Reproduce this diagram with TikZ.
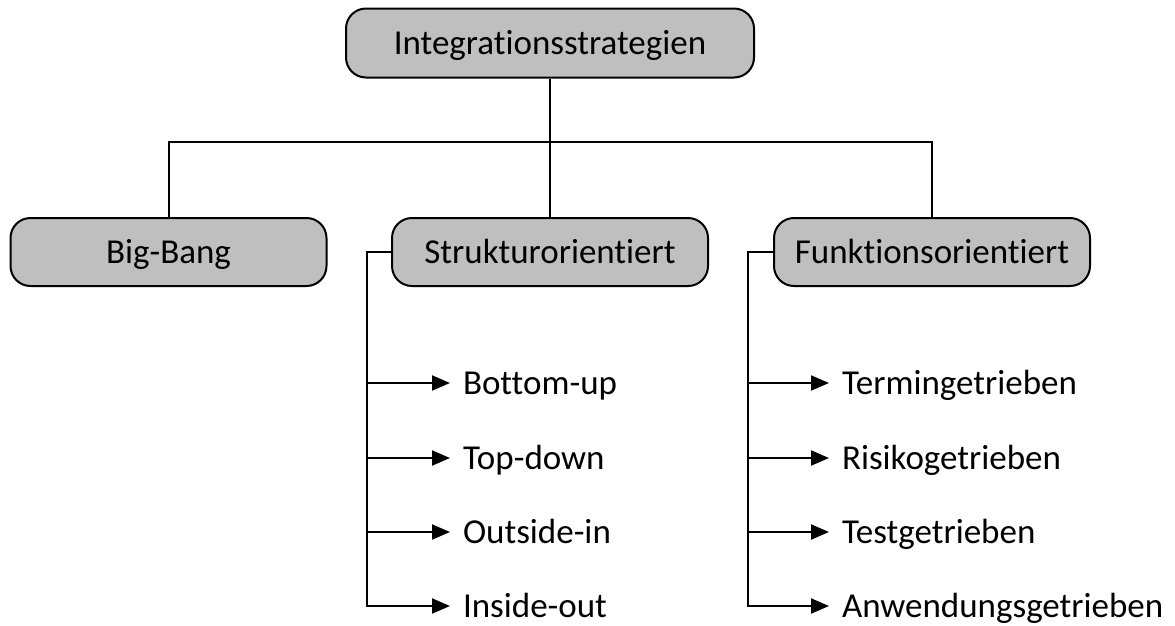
\documentclass[tikz,border=0pt]{standalone}
\usepackage{fontspec}
\setmainfont{Carlito}[RawFeature={-liga;-dlig;-clig}]
\usetikzlibrary{arrows.meta}
\begin{document}
\begin{tikzpicture}[x=1pt,y=-1pt,
  line width=2pt,
  every node/.style={font=\fontsize{35}{42}\selectfont, text height=22.5pt, text depth=0pt},
  catbox/.style={draw, fill=black!25, rounded corners=20pt, minimum width=316pt, minimum height=68pt, inner sep=0pt},
  leaf/.style={anchor=west, inner xsep=12pt, inner ysep=0pt},
  arr/.style={-{Triangle[length=18pt,width=15pt]}}]
  \useasboundingbox (0,0) rectangle (1175,625);

  % root and the three strategy groups
  \node[catbox, minimum width=408pt, minimum height=69pt] (root) at (550,43) {Integrationsstrategien};
  \node[catbox] (bb) at (168.5,252) {Big-Bang};
  \node[catbox] (sk) at (550,252) {Strukturorientiert};
  \node[catbox] (fk) at (932,252) {Funktionsorientiert};

  \coordinate (bus) at (550,142);
  \draw (root.south) -- (bus);
  \draw (bb.north) |- (bus) -| (fk.north);
  \draw (bus) -- (sk.north);

  % structure-oriented strategies
  \node[leaf] (s1) at (450,383) {Bottom-up};
  \node[leaf] (s2) at (450,458) {Top-down};
  \node[leaf] (s3) at (450,532) {Outside-in};
  \node[leaf] (s4) at (450,606) {Inside-out};
  \coordinate (sb) at (367,252);
  \draw[arr] (sk.west) -- (sb) |- (s4.west);
  \foreach \n in {s1,s2,s3} \draw[arr] (sb |- \n.west) -- (\n.west);

  % function-oriented strategies
  \node[leaf] (f1) at (829,383) {Termingetrieben};
  \node[leaf] (f2) at (829,458) {Risikogetrieben};
  \node[leaf] (f3) at (829,532) {Testgetrieben};
  \node[leaf] (f4) at (829,606) {Anwendungsgetrieben};
  \coordinate (fb) at (748,252);
  \draw[arr] (fk.west) -- (fb) |- (f4.west);
  \foreach \n in {f1,f2,f3} \draw[arr] (fb |- \n.west) -- (\n.west);
\end{tikzpicture}
\end{document}
